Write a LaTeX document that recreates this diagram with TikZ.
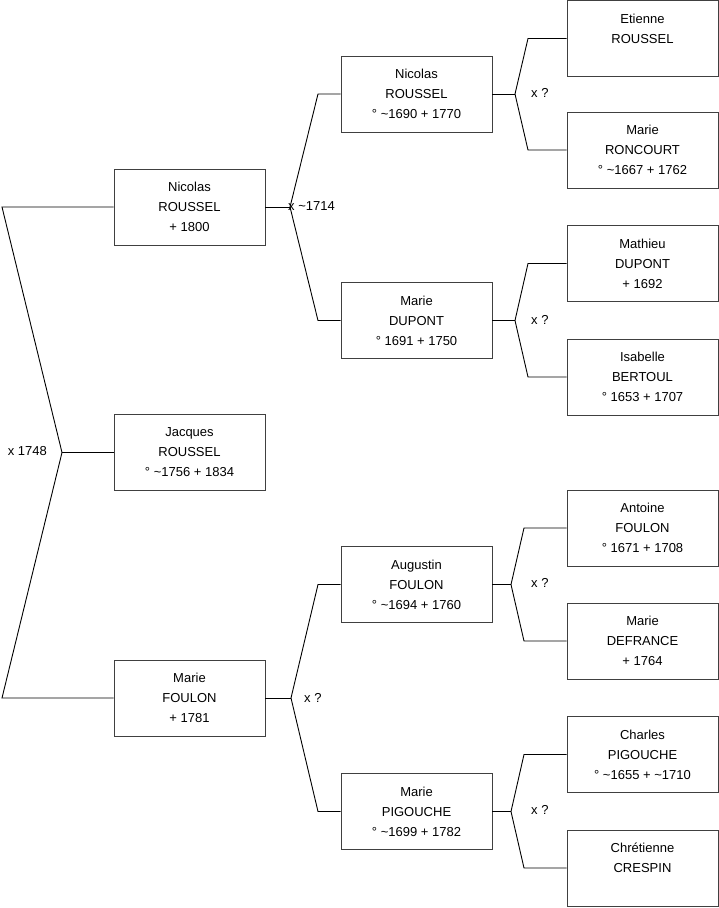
\documentclass[tikz,border=0pt]{standalone}
\usepackage{fontspec}
\setmainfont{Liberation Sans}
\usetikzlibrary{calc}

\begin{document}
\begin{tikzpicture}[x=1pt, y=-1pt, font=\fontsize{13}{20}\selectfont,
  person/.style={draw=black!75, line width=0.9pt, minimum width=151pt, minimum height=76pt, inner sep=0pt, align=center},
  link/.style={black, line width=0.9pt},
  union/.style={inner sep=0pt, anchor=west}]
  \useasboundingbox (0,0) rectangle (719,908);
  % generation 1
  \node[person] (nicolasA) at (189.5,207) {Nicolas\\ROUSSEL\\+ 1800};
  \node[person] (jacques) at (189.5,452.5) {Jacques\\ROUSSEL\\° \textasciitilde 1756 + 1834};
  \node[person] (marieF) at (189.5,698) {Marie\\FOULON\\+ 1781};
  % generation 2
  \node[person] (nicolasB) at (416.5,94) {Nicolas\\ROUSSEL\\° \textasciitilde 1690 + 1770};
  \node[person] (marieD) at (416.5,320.5) {Marie\\DUPONT\\° 1691 + 1750};
  \node[person] (augustin) at (416.5,584.5) {Augustin\\FOULON\\° \textasciitilde 1694 + 1760};
  \node[person] (marieP) at (416.5,811.5) {Marie\\PIGOUCHE\\° \textasciitilde 1699 + 1782};
  % generation 3
  \node[person] (etienne) at (642.5,38.5) {Etienne\\ROUSSEL\\\mbox{}};
  \node[person] (marieR) at (642.5,150) {Marie\\RONCOURT\\° \textasciitilde 1667 + 1762};
  \node[person] (mathieu) at (642.5,263.5) {Mathieu\\DUPONT\\+ 1692};
  \node[person] (isabelle) at (642.5,377) {Isabelle\\BERTOUL\\° 1653 + 1707};
  \node[person] (antoine) at (642.5,528) {Antoine\\FOULON\\° 1671 + 1708};
  \node[person] (marieDe) at (642.5,641) {Marie\\DEFRANCE\\+ 1764};
  \node[person] (charles) at (642.5,754.5) {Charles\\PIGOUCHE\\° \textasciitilde 1655 + \textasciitilde 1710};
  \node[person] (chretienne) at (642.5,868) {Chrétienne\\CRESPIN\\\mbox{}};

  % fork of the parents of Jacques
  \coordinate (j0) at (62,452.5);
  \coordinate (j0a) at (2,207);
  \coordinate (j0b) at (2,698);
  \draw[link] (nicolasA.west) -- (j0a) -- (j0) -- (j0b) -- (marieF.west);
  \draw[link] (j0) -- (jacques.west);
  \node[union, anchor=east] (u0) at (47,451) {x 1748};

  % forks of generation 2
  \coordinate (j1) at (290,207);
  \draw[link] (nicolasA.east) -- (j1);
  \draw[link] (j1) -- (318,94) -- (nicolasB.west);
  \draw[link] (j1) -- (318,320.5) -- (marieD.west);
  \node[union] (u1) at (288,206.5) {x \textasciitilde 1714};

  \coordinate (j2) at (291,698);
  \draw[link] (marieF.east) -- (j2);
  \draw[link] (j2) -- (318,584.5) -- (augustin.west);
  \draw[link] (j2) -- (318,811.5) -- (marieP.west);
  \node[union] (u2) at (304,697.5) {x ?};

  % forks of generation 3
  \coordinate (j3) at (515,94);
  \draw[link] (nicolasB.east) -- (j3);
  \draw[link] (j3) -- (528,38.5) -- (etienne.west);
  \draw[link] (j3) -- (528,150) -- (marieR.west);
  \node[union] (u3) at (531,92.5) {x ?};

  \coordinate (j4) at (515,320.5);
  \draw[link] (marieD.east) -- (j4);
  \draw[link] (j4) -- (528,263.5) -- (mathieu.west);
  \draw[link] (j4) -- (528,377) -- (isabelle.west);
  \node[union] (u4) at (531,319.5) {x ?};

  \coordinate (j5) at (511,584.5);
  \draw[link] (augustin.east) -- (j5);
  \draw[link] (j5) -- (524,528) -- (antoine.west);
  \draw[link] (j5) -- (524,641) -- (marieDe.west);
  \node[union] (u5) at (531,583) {x ?};

  \coordinate (j6) at (511,811.5);
  \draw[link] (marieP.east) -- (j6);
  \draw[link] (j6) -- (524,754.5) -- (charles.west);
  \draw[link] (j6) -- (524,868) -- (chretienne.west);
  \node[union] (u6) at (531,810) {x ?};
\end{tikzpicture}
\end{document}
